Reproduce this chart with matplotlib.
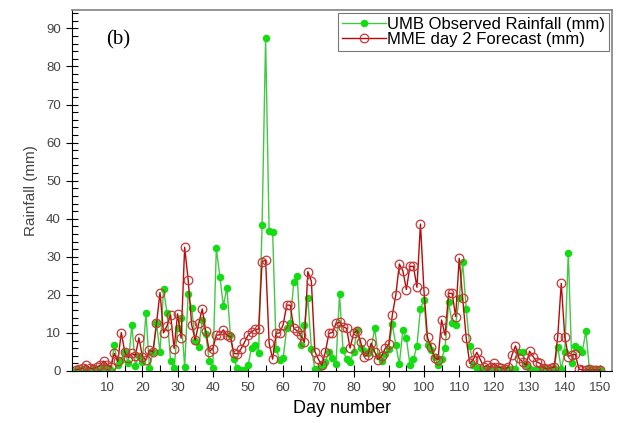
import numpy as np
import matplotlib
matplotlib.use("Agg")
import matplotlib.pyplot as plt
from matplotlib.ticker import MultipleLocator

plt.rcParams["font.family"] = ["Liberation Sans", "DejaVu Sans"]

# day numbers 1..150
days = np.arange(1, 151)

# UMB observed rainfall (mm)
umb_obs = [
    0.2, 0.3, 0.5, 0.2, 0.3, 0.8, 0.4, 0.5, 1.0, 0.8,
    0.3, 6.8, 1.5, 3.0, 4.9, 2.0, 12.2, 1.4, 4.0, 2.3,
    15.2, 0.7, 5.0, 12.5, 4.9, 21.5, 15.1, 2.6, 0.7, 11.4,
    14.0, 1.1, 20.1, 16.6, 7.9, 6.4, 13.4, 9.6, 2.6, 0.8,
    32.2, 24.8, 17.1, 21.9, 9.4, 3.1, 0.7, 0.3, 0.3, 1.5,
    6.0, 6.8, 4.6, 38.3, 87.5, 36.7, 36.5, 5.8, 2.9, 3.5,
    11.2, 12.5, 23.4, 24.9, 6.8, 12.2, 19.1, 5.9, 0.5, 0.3,
    1.2, 2.4, 5.1, 3.5, 1.8, 20.1, 5.5, 3.1, 2.3, 5.1,
    10.8, 6.1, 5.2, 4.6, 5.9, 11.2, 4.0, 2.6, 4.4, 5.9,
    12.3, 6.8, 1.8, 10.8, 8.6, 1.6, 3.1, 6.6, 16.4, 18.6,
    6.8, 5.5, 3.8, 1.6, 3.1, 6.1, 18.0, 12.5, 12.1, 19.2,
    28.5, 16.3, 6.6, 1.6, 0.7, 0.4, 0.3, 0.5, 0.4, 0.3,
    0.6, 0.4, 0.3, 0.5, 0.6, 0.4, 4.9, 5.1, 1.6, 0.5,
    0.3, 0.6, 0.4, 0.8, 0.3, 0.5, 0.9, 6.4, 0.5, 4.9,
    31.1, 2.0, 6.6, 5.8, 5.1, 10.5, 0.5, 0.3, 0.4, 0.6,
]

# MME day 2 forecast (mm)
mme_fc = [
    0.3, 0.5, 0.8, 1.6, 0.8, 0.5, 1.0, 1.5, 2.6, 1.7,
    1.0, 4.6, 2.5, 10.1, 4.9, 3.5, 4.6, 4.0, 8.7, 3.8,
    2.9, 5.5, 5.0, 12.5, 20.6, 10.0, 11.9, 14.7, 5.9, 15.0,
    8.6, 32.5, 23.9, 12.1, 8.1, 12.5, 16.3, 10.5, 5.1, 5.9,
    9.4, 9.5, 10.8, 9.4, 9.0, 4.6, 4.5, 5.8, 7.5, 9.4,
    10.3, 10.9, 11.0, 28.7, 29.1, 7.3, 3.1, 9.9, 10.0, 12.2,
    17.3, 17.3, 11.2, 10.5, 9.4, 7.5, 26.1, 23.6, 5.1, 3.1,
    1.5, 5.1, 9.9, 10.1, 12.5, 12.8, 11.6, 11.2, 6.0, 9.9,
    10.6, 7.7, 3.8, 4.2, 7.3, 5.0, 3.0, 4.0, 6.0, 7.0,
    14.7, 20.0, 28.1, 26.3, 21.4, 27.5, 27.5, 22.0, 38.6, 21.0,
    8.8, 6.4, 3.5, 3.0, 13.4, 9.4, 20.4, 20.4, 14.3, 29.6,
    19.2, 8.6, 2.0, 3.0, 4.9, 3.0, 1.1, 1.5, 1.0, 2.0,
    1.1, 0.8, 0.5, 1.0, 4.2, 6.6, 3.3, 2.4, 1.5, 5.2,
    3.8, 2.4, 2.0, 0.9, 0.5, 0.9, 1.0, 9.0, 23.0, 9.0,
    3.8, 4.2, 4.4, 0.5, 0.3, 0.3, 0.4, 0.3, 0.3, 0.3,
]

fig = plt.figure(figsize=(6.22, 4.23), dpi=100)
ax = fig.add_axes([0.1158, 0.123, 0.868, 0.853])

ax.plot(days, umb_obs, color="#44c844", lw=1.0, marker="o", ms=4.4,
        mfc="#11dd11", mec="#11dd11", label="UMB Observed Rainfall (mm)")
ax.plot(days, mme_fc, color="#b80808", lw=1.0, marker="o", ms=6.2,
        mfc="none", mec="#c83838", mew=0.9, label="MME day 2 Forecast (mm)")

ax.set_xlim(0, 153.4)
ax.set_ylim(0, 94.8)
ax.xaxis.set_major_locator(MultipleLocator(10))
ax.xaxis.set_minor_locator(MultipleLocator(5))
ax.yaxis.set_major_locator(MultipleLocator(10))
ax.yaxis.set_minor_locator(MultipleLocator(2))
ax.set_xticks(np.arange(10, 151, 10))
ax.tick_params(which="major", direction="inout", length=9, width=0.8,
               labelsize=9.5, labelcolor="#444444")
ax.tick_params(which="minor", direction="in", length=4, width=0.8)

for s in ("top", "right"):
    ax.spines[s].set_color("#808080")
    ax.spines[s].set_linewidth(1.2)

ax.set_xlabel("Day number", fontsize=13, labelpad=4)
ax.set_ylabel("Rainfall (mm)", fontsize=11, color="#444444", labelpad=6)

ax.text(0.064, 0.905, "(b)", transform=ax.transAxes, fontsize=15,
        family="Liberation Serif")

leg = ax.legend(loc="upper right", fontsize=12, frameon=True, fancybox=False,
                borderpad=0.25, labelspacing=0.0, handlelength=2.6,
                handletextpad=0.1, borderaxespad=0.15)
leg.get_frame().set_edgecolor("#555555")
leg.get_frame().set_linewidth(0.8)

fig.savefig("out.png", dpi=100)
